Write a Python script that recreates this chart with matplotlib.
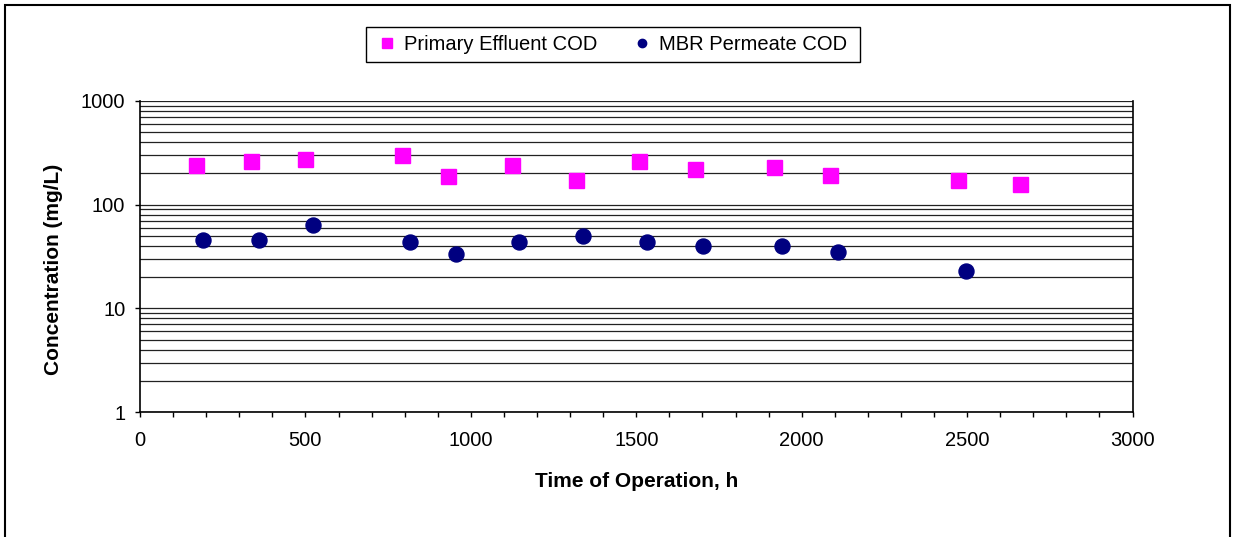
import numpy as np
import matplotlib
matplotlib.use("Agg")
import matplotlib.pyplot as plt
from matplotlib.ticker import LogLocator, MultipleLocator, FuncFormatter, NullFormatter

plt.rcParams['font.family'] = ['Liberation Sans', 'DejaVu Sans']

# Primary effluent COD (mg/L) vs time (h)
pe_time = [168, 336, 499, 791, 931, 1124, 1317, 1509, 1678, 1917, 2086, 2472, 2659]
pe_cod = [242, 264, 274, 300, 187, 242, 172, 264, 221, 231, 195, 172, 158]

# MBR permeate COD (mg/L) vs time (h)
mbr_time = [190, 359, 522, 815, 955, 1147, 1340, 1532, 1702, 1940, 2110, 2496]
mbr_cod = [45.5, 45.5, 64, 43.5, 33.6, 43.5, 49.7, 43.5, 40.1, 40.1, 35.1, 23.0]

W, H = 1233, 537
fig = plt.figure(figsize=(W / 100, H / 100), dpi=100)
ax = fig.add_axes([140 / W, 1 - 412 / H, (1132.5 - 140) / W, (412 - 101) / H])

ax.set_yscale('log')
ax.set_ylim(1, 1000)
ax.set_xlim(0, 3000)

# gridlines at every major and minor log position
ax.yaxis.set_major_locator(LogLocator(base=10, numticks=10))
ax.yaxis.set_minor_locator(LogLocator(base=10, subs=np.arange(2, 10), numticks=10))
ax.grid(True, which='both', axis='y', color='#222222', linewidth=0.9)
ax.set_axisbelow(True)

ax.xaxis.set_major_locator(MultipleLocator(500))
ax.xaxis.set_minor_locator(MultipleLocator(100))
ax.yaxis.set_major_formatter(FuncFormatter(lambda v, p: f"{v:g}"))
ax.yaxis.set_minor_formatter(NullFormatter())

ax.tick_params(axis='x', which='both', direction='out', length=3.5, width=1,
               labelsize=14.5, pad=10.5)
ax.tick_params(axis='y', which='major', direction='out', length=3.6, width=1,
               labelsize=14.5, pad=7)
ax.tick_params(axis='y', which='minor', length=0)

for side in ['left', 'bottom', 'right']:
    ax.spines[side].set_linewidth(1.2)
    ax.spines[side].set_color('black')
ax.spines['top'].set_visible(False)

ax.plot(pe_time, pe_cod, linestyle='none', marker='s', markersize=10.8,
        color='#FF00FF', markeredgecolor='#FF00FF', label='Primary Effluent COD',
        zorder=3)
ax.plot(mbr_time, mbr_cod, linestyle='none', marker='o', markersize=10.8,
        color='#000080', markeredgecolor='#000080', label='MBR Permeate COD',
        zorder=3)

ax.set_xlabel('Time of Operation, h', fontsize=15, fontweight='bold')
ax.set_ylabel('Concentration (mg/L)', fontsize=15, fontweight='bold')
ax.xaxis.set_label_coords(0.5, (412 - 472) / 311)
ax.yaxis.set_label_coords((63 - 140) / 992.5, (412 - 269) / 311)

# legend box drawn separately so its padding matches
fig.patches.append(plt.Rectangle((366 / W, 1 - 62 / H), (860 - 366) / W, 35 / H,
                                 transform=fig.transFigure, fill=False,
                                 edgecolor='black', linewidth=1.0))
leg = fig.legend(loc='center', bbox_to_anchor=(613 / W, 1 - 44.5 / H), ncol=2,
                 fontsize=14.5, frameon=False, borderpad=0.0,
                 handletextpad=0.45, columnspacing=1.85, handlelength=0.8)
leg.legend_handles[0].set_markersize(6.5)
leg.legend_handles[1].set_markersize(6.0)

# outer chart border
fig.patches.append(plt.Rectangle((5 / W, -0.05), 1225 / W, 1.05 - 4.5 / H,
                                 transform=fig.transFigure, fill=False,
                                 edgecolor='black', linewidth=1.5))

fig.savefig('out.png', dpi=100)
